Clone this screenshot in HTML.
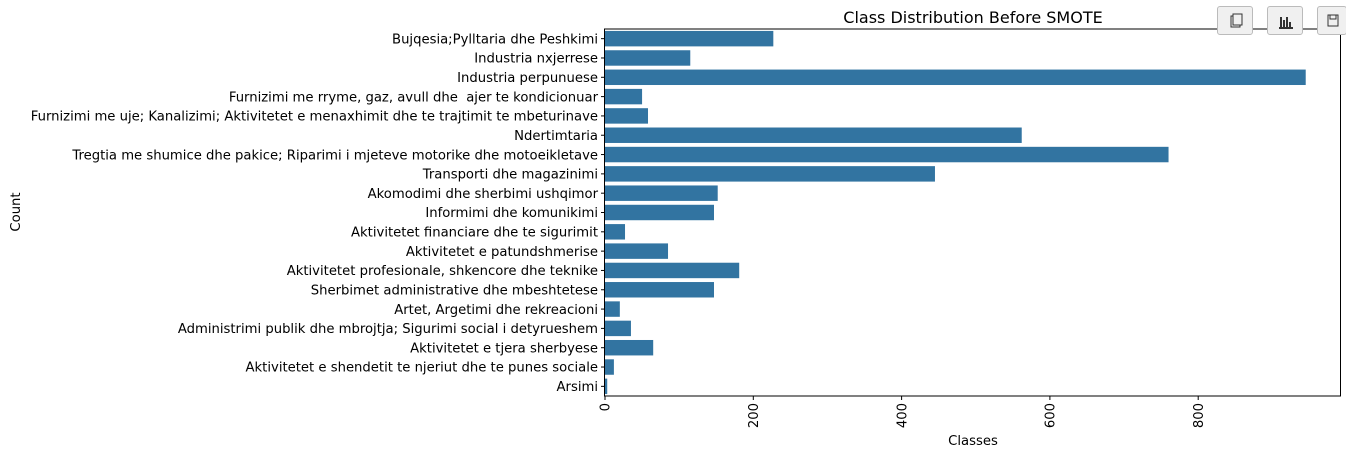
<!DOCTYPE html>
<html><head><meta charset="utf-8"><style>
body{margin:0;background:#fff;width:1346px;height:451px;overflow:hidden;font-family:"DejaVu Sans","Liberation Sans",sans-serif}
svg text{white-space:pre}
.btn{position:absolute;top:6px;width:36px;height:29px;background:#f0f0f0;border:1px solid #bbb;border-radius:3px;box-sizing:border-box}
</style></head><body>
<svg id="chart" width="1346" height="451" style="position:absolute;left:0;top:0;font-family:'DejaVu Sans',sans-serif"></svg>
<div class="btn" style="left:1217px"><svg width="36" height="29"><rect x="13" y="9" width="9" height="11" fill="none" stroke="#333"/><rect x="15" y="7" width="9" height="11" fill="#f0f0f0" stroke="#333"/></svg></div>
<div class="btn" style="left:1267px"><svg width="36" height="29"><path d="M11 21h14M13 20v-10M16 20v-7M19 20v-10M22 20v-5" stroke="#333" stroke-width="2"/></svg></div>
<div class="btn" style="left:1317px;width:30px"><svg width="30" height="29"><rect x="10" y="8" width="10" height="11" fill="none" stroke="#333"/><rect x="12" y="8" width="6" height="4" fill="none" stroke="#333"/></svg></div>
<script>
const categories=["Bujqesia;Pylltaria dhe Peshkimi","Industria nxjerrese","Industria perpunuese","Furnizimi me rryme, gaz, avull dhe  ajer te kondicionuar","Furnizimi me uje; Kanalizimi; Aktivitetet e menaxhimit dhe te trajtimit te mbeturinave","Ndertimtaria","Tregtia me shumice dhe pakice; Riparimi i mjeteve motorike dhe motoeikletave","Transporti dhe magazinimi","Akomodimi dhe sherbimi ushqimor","Informimi dhe komunikimi","Aktivitetet financiare dhe te sigurimit","Aktivitetet e patundshmerise","Aktivitetet profesionale, shkencore dhe teknike","Sherbimet administrative dhe mbeshtetese","Artet, Argetimi dhe rekreacioni","Administrimi publik dhe mbrojtja; Sigurimi social i detyrueshem","Aktivitetet e tjera sherbyese","Aktivitetet e shendetit te njeriut dhe te punes sociale","Arsimi"];
const counts=[227,115,945,50,58,562,760,445,152,147,27,85,181,147,20,35,65,12,3];
const ticks=[0,200,400,600,800];
const L=605,R=1341,T=29,B=396,PX=148.3/200;
const x=v=>L+v*PX;
const band=(B-T)/categories.length;
const y=i=>T+band*i;
const svg=document.getElementById('chart');
const NS='http://www.w3.org/2000/svg';
function mk(t,a,txt){const e=document.createElementNS(NS,t);for(const k in a)e.setAttribute(k,a[k]);if(txt!==undefined)e.textContent=txt;svg.appendChild(e);return e;}
categories.forEach((c,i)=>{
 const r=mk('rect',{x:x(0),y:y(i)+band*0.1,width:x(counts[i])-x(0),height:band*0.8,fill:'#3274a1'});
 
 
 const cy=y(i)+band/2;
 mk('line',{x1:L-4,x2:L,y1:cy,y2:cy,stroke:'#000'});
 const t=mk('text',{x:L-7,y:cy+4.7,'text-anchor':'end','font-size':13.2,fill:'#000'},c);
 
 
});
ticks.forEach(v=>{
 mk('line',{x1:x(v),x2:x(v),y1:B,y2:B+4,stroke:'#000'});
 const t=mk('text',{x:0,y:0,'text-anchor':'end','font-size':13.2,transform:`translate(${x(v)+4.7},${B+7}) rotate(-90)`},v);
 
 
});
const f=mk('rect',{x:L-0.5,y:T,width:R-L,height:B-T,fill:'none',stroke:'#000','stroke-width':1});


const ti=mk('text',{x:973,y:23,'text-anchor':'middle','font-size':16},'Class Distribution Before SMOTE');


const xl=mk('text',{x:973,y:445,'text-anchor':'middle','font-size':13.2},'Classes');


const yl=mk('text',{x:0,y:0,'text-anchor':'middle','font-size':13.2,transform:'translate(20,212) rotate(-90)'},'Count');


</script>
</body></html>
